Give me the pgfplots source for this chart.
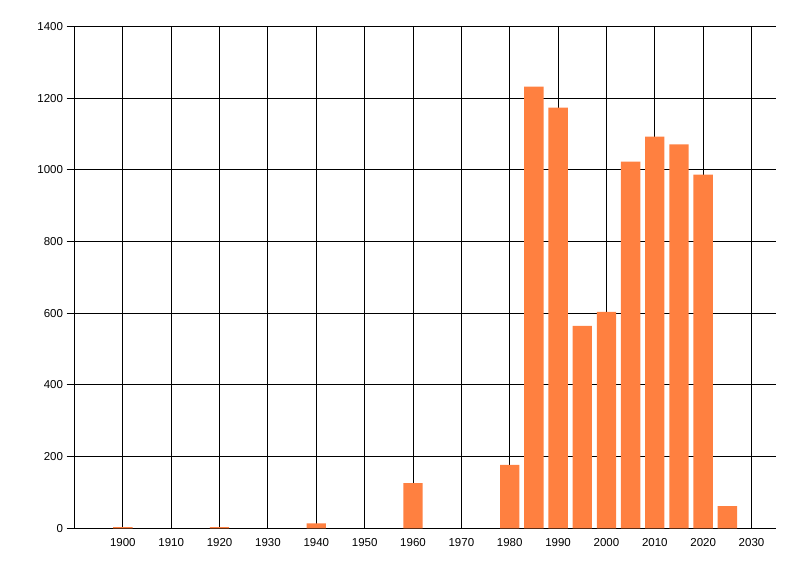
\documentclass[border=0pt]{standalone}
\usepackage{pgfplots}
\pgfplotsset{compat=1.18}
\usepackage{fontspec}
\setmainfont{Liberation Sans}
\definecolor{barorange}{RGB}{255,128,64}
\begin{document}
\begin{tikzpicture}
\path[use as bounding box] (-74.5pt,-47.7pt) rectangle (725.5pt,528.3pt);
\begin{axis}[
    at={(0pt,0pt)}, anchor=south west,
    scale only axis,
    width=701.2pt, height=501.8pt,
    xmin=1890, xmax=2035,
    ymin=0, ymax=1400,
    axis x line*=bottom,
    axis y line*=left,
    xtick={1900,1910,...,2030},
    ytick={0,200,...,1400},
    grid=major,
    major grid style={black, line width=1pt},
    axis line style={black, line width=1pt},
    tick style={black, line width=1pt},
    tick align=outside,
    xtick style={draw=none},
    major tick length=8pt,
    ticklabel style={font=\fontsize{11.5}{13}\selectfont},
    xticklabel style={yshift=1.5pt},
    /pgf/number format/assume math mode=true,
    /pgf/number format/1000 sep={},
    ybar, bar width=4, bar shift=0pt,
]
\addplot[fill=barorange, draw=none] coordinates {
    (1900,3) (1920,3) (1940,14) (1960,126) (1980,177)
    (1985,1232) (1990,1174) (1995,565) (2000,604) (2005,1023)
    (2010,1093) (2015,1071) (2020,987) (2025,62)
};
\end{axis}
\end{tikzpicture}
\end{document}
